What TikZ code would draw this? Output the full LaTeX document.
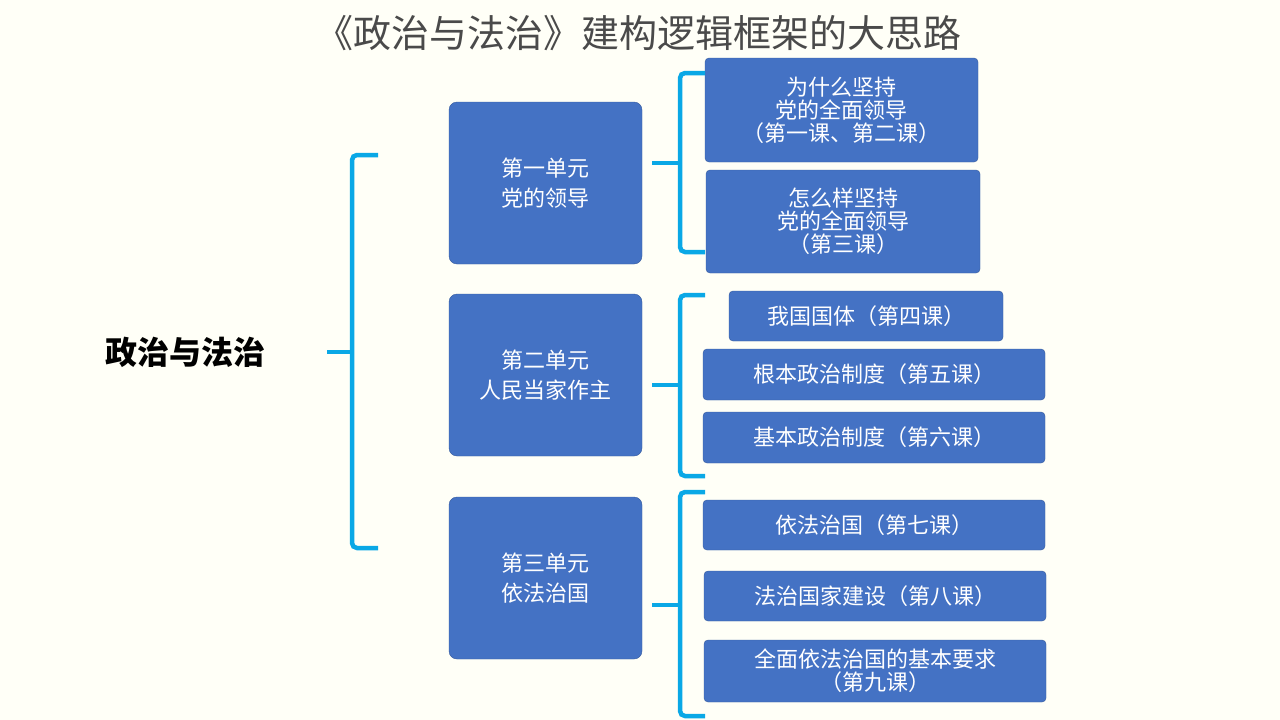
\documentclass[tikz,border=0pt]{standalone}
\usepackage{fontspec}
\setmainfont{Noto Sans CJK SC}
\usetikzlibrary{positioning}
\definecolor{boxblue}{HTML}{4472C4}
\definecolor{bracecyan}{HTML}{0AA8E6}
\definecolor{paper}{HTML}{FFFFF7}
\definecolor{titlegray}{HTML}{4A4A4A}
\tikzset{unit/.style={draw=boxblue!80!black,fill=boxblue,rounded corners=8pt,text=white,align=center,
    minimum width=193pt,minimum height=162pt,font=\fontsize{22}{30}\selectfont}}
\tikzset{lesson/.style={draw=boxblue!80!black,fill=boxblue,rounded corners=4pt,text=white,align=center,
    font=\fontsize{22}{23}\selectfont,inner sep=0pt}}
\tikzset{brace/.style={bracecyan,line width=4.5pt,rounded corners=5pt}}
\begin{document}
\begin{tikzpicture}[x=1pt,y=-1pt]
  \fill[paper] (0,0) rectangle (1280,720);
  \useasboundingbox (0,0) rectangle (1280,720);
  \node[text=titlegray,font=\fontsize{38}{40}\selectfont] (title) at (638,33) {《政治与法治》建构逻辑框架的大思路};
  \node[font=\bfseries\fontsize{32}{34}\selectfont] (main) at (185,352) {政治与法治};
  % units
  \node[unit] (u1) at (545.5,183) {第一单元\\党的领导};
  \node[unit] (u2) at (545.5,375) {第二单元\\人民当家作主};
  \node[unit] (u3) at (545.5,578) {第三单元\\依法治国};
  % lessons
  \node[lesson,minimum width=273pt,minimum height=104pt] (l1) at (841.5,110) {为什么坚持\\党的全面领导\\（第一课、第二课）};
  \node[lesson,minimum width=274pt,minimum height=103pt] (l2) at (843,221.5) {怎么样坚持\\党的全面领导\\（第三课）};
  \node[lesson,minimum width=274pt,minimum height=50pt] (l3) at (866,316) {我国国体（第四课）};
  \node[lesson,minimum width=342pt,minimum height=51pt] (l4) at (874,374.5) {根本政治制度（第五课）};
  \node[lesson,minimum width=342pt,minimum height=51pt] (l5) at (874,437.5) {基本政治制度（第六课）};
  \node[lesson,minimum width=342pt,minimum height=50pt] (l6) at (874,525) {依法治国（第七课）};
  \node[lesson,minimum width=342pt,minimum height=50pt] (l7) at (875,596) {法治国家建设（第八课）};
  \node[lesson,minimum width=342pt,minimum height=62pt] (l8) at (875,671) {全面依法治国的基本要求\\（第九课）};
  % braces
  \coordinate (b0) at (327,352);
  \coordinate (b1) at (652,163);
  \coordinate (b2) at (652,385);
  \coordinate (b3) at (652,605);
  \draw[brace] (378,155) -- (352,155) -- (352,352) -- (352,548) -- (378,548);
  \draw[brace,rounded corners=0pt] (b0) -- (352,352);
  \draw[brace] (705,73) -- (680,73) -- (680,252) -- (705,252);
  \draw[brace,rounded corners=0pt] (b1) -- (680,163);
  \draw[brace] (705,295) -- (680,295) -- (680,476) -- (705,476);
  \draw[brace,rounded corners=0pt] (b2) -- (680,385);
  \draw[brace] (705,492) -- (680,492) -- (680,716) -- (705,716);
  \draw[brace,rounded corners=0pt] (b3) -- (680,605);
\end{tikzpicture}
\end{document}
